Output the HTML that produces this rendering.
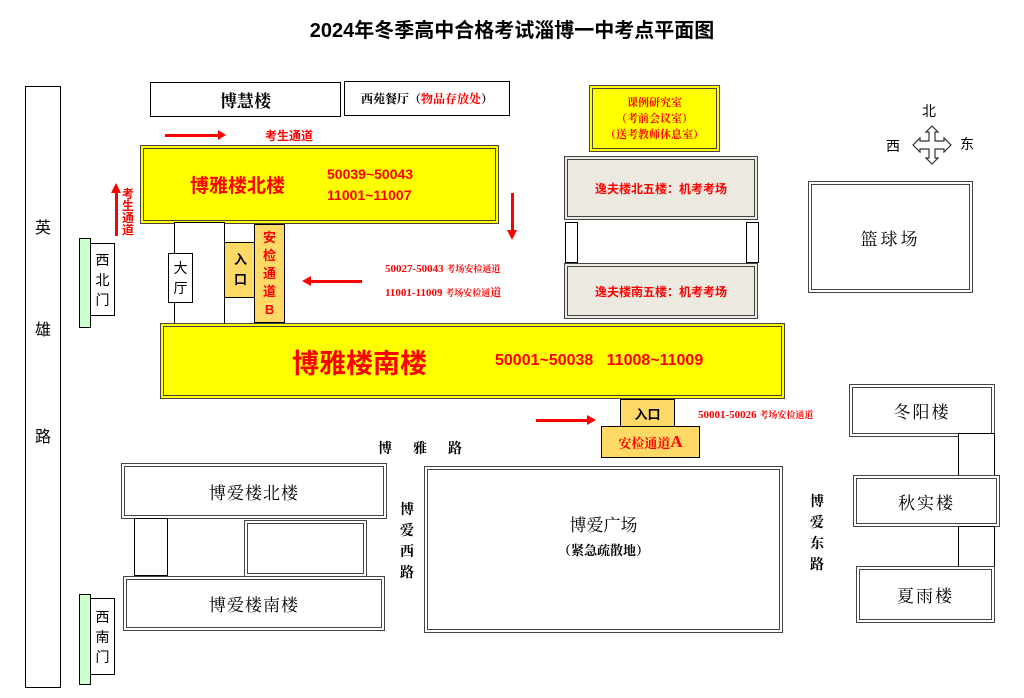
<!DOCTYPE html>
<html><head><meta charset="utf-8"><style>
body{margin:0;width:1024px;height:698px;background:#fff;position:relative;overflow:hidden;font-family:"Liberation Sans","Noto Sans CJK SC",sans-serif}
.b{position:absolute;box-sizing:border-box;display:flex;align-items:center;justify-content:center;text-align:center}
.s{border:1px solid #000;background:#fff}
.d{border:4px double #444;background:#fff}
.y{background:#ff0}
.o{background:#ffd966;border:1px solid #000}
.r{color:#f00;font-weight:bold}
.t{position:absolute;white-space:nowrap}
.serif{font-family:"Liberation Serif","Noto Serif CJK SC",serif}
.arr{position:absolute;background:#f00}
</style></head><body>
<div class="t" style="left:0;width:1024px;top:14px;text-align:center;font-size:20px;font-weight:bold">2024年冬季高中合格考试淄博一中考点平面图</div>

<div class="b s" style="left:25px;top:86px;width:36px;height:602px"></div>
<div class="t" style="left:35px;top:214px;font-size:16px">英</div>
<div class="t" style="left:35px;top:316px;font-size:16px">雄</div>
<div class="t" style="left:35px;top:423px;font-size:16px">路</div>

<div class="b s serif" style="left:150px;top:82px;width:191px;height:35px;font-size:17px;font-weight:bold">博慧楼</div>
<div class="b s serif" style="left:344px;top:81px;width:166px;height:35px;font-size:12px;font-weight:bold">西苑餐厅（<span style="color:#f00">物品存放处</span>）</div>

<div class="arr" style="left:165px;top:134px;width:55px;height:3px"></div>
<div class="t" style="left:218px;top:130px;width:0;height:0;border-left:8px solid #f00;border-top:5px solid transparent;border-bottom:5px solid transparent"></div>
<div class="t r" style="left:265px;top:127px;font-size:12px">考生通道</div>

<div class="b d y" style="left:140px;top:145px;width:359px;height:79px;justify-content:flex-start">
<span class="r" style="font-size:19px;margin-left:46px">博雅楼北楼</span>
<span class="r" style="font-size:14px;margin-left:42px;line-height:21px;text-align:left">50039~50043<br>11001~11007</span></div>

<div class="arr" style="left:115px;top:192px;width:3px;height:44px"></div>
<div class="t" style="left:111px;top:183px;width:0;height:0;border-bottom:10px solid #f00;border-left:5px solid transparent;border-right:5px solid transparent"></div>
<div class="t r" style="left:122px;top:188px;font-size:12px;line-height:12px;width:13px;white-space:normal">考生通道</div>

<div class="b" style="left:79px;top:238px;width:12px;height:90px;background:#cfc;border:1px solid #000"></div>
<div class="b s" style="left:90px;top:243px;width:25px;height:73px;font-size:14px;line-height:20px;padding:0 4px">西北门</div>

<div class="b s" style="left:174px;top:222px;width:51px;height:102px"></div>
<div class="b s" style="left:168px;top:253px;width:25px;height:50px;font-size:14px;line-height:20px;padding:0 4px">大厅</div>
<div class="b o" style="left:224px;top:242px;width:33px;height:56px;font-size:13px;font-weight:bold;line-height:20px;padding:0 9px">入口</div>
<div class="b o r" style="left:254px;top:224px;width:31px;height:99px;font-size:13px;line-height:18px;padding:0 8px;border:1px solid #000">安检通道B</div>

<div class="arr" style="left:310px;top:280px;width:52px;height:3px"></div>
<div class="t" style="left:302px;top:276px;width:0;height:0;border-right:9px solid #f00;border-top:5px solid transparent;border-bottom:5px solid transparent"></div>
<div class="t r serif" style="left:385px;top:262px;font-size:11px">50027-50043 <span style="font-size:9px">考场安检通道</span></div>
<div class="t r serif" style="left:385px;top:284px;font-size:11px">11001-11009 <span style="font-size:9px">考场安检通</span>道</div>

<div class="arr" style="left:511px;top:193px;width:3px;height:38px"></div>
<div class="t" style="left:507px;top:230px;width:0;height:0;border-top:10px solid #f00;border-left:5px solid transparent;border-right:5px solid transparent"></div>

<div class="b d y" style="left:160px;top:323px;width:625px;height:76px;justify-content:flex-start">
<span class="r" style="font-size:27px;margin-left:128px">博雅楼南楼</span>
<span class="r" style="font-size:16px;margin-left:68px">50001~50038&nbsp;&nbsp;&nbsp;11008~11009</span></div>

<div class="b d y r serif" style="left:589px;top:85px;width:131px;height:67px;font-size:11px;line-height:16px">课例研究室<br>（考前会议室）<br>（送考教师休息室）</div>
<div class="b d r" style="left:564px;top:156px;width:194px;height:64px;background:#ece9e0;font-size:12px">逸夫楼北五楼：机考考场</div>
<div class="b s" style="left:565px;top:222px;width:13px;height:41px"></div>
<div class="b s" style="left:746px;top:222px;width:13px;height:41px"></div>
<div class="b d r" style="left:564px;top:263px;width:194px;height:56px;background:#ece9e0;font-size:12px">逸夫楼南五楼：机考考场</div>

<div class="t" style="left:922px;top:101px;font-size:14px">北</div>
<div class="t" style="left:886px;top:136px;font-size:14px">西</div>
<div class="t" style="left:960px;top:134px;font-size:14px">东</div>
<svg class="t" style="left:911px;top:125px" width="42" height="40" viewBox="0 0 42 40"><path d="M21 1 L27 7 L24 7 L24 16 L33 16 L33 13 L40 20 L33 27 L33 24 L24 24 L24 33 L27 33 L21 39 L15 33 L18 33 L18 24 L9 24 L9 27 L2 20 L9 13 L9 16 L18 16 L18 7 L15 7 Z" fill="#fff" stroke="#333" stroke-width="1.2"/></svg>

<div class="b d serif" style="left:808px;top:181px;width:165px;height:112px;font-size:17px;letter-spacing:3px">篮球场</div>

<div class="b o" style="left:620px;top:399px;width:55px;height:28px;font-size:13px;font-weight:bold">入口</div>
<div class="b o r serif" style="left:601px;top:426px;width:99px;height:32px;font-size:13px">安检通道<span style="font-size:17px">A</span></div>
<div class="arr" style="left:536px;top:419px;width:52px;height:3px"></div>
<div class="t" style="left:587px;top:415px;width:0;height:0;border-left:9px solid #f00;border-top:5px solid transparent;border-bottom:5px solid transparent"></div>
<div class="t r serif" style="left:698px;top:408px;font-size:11px">50001-50026 <span style="font-size:9px">考场安检通道</span></div>

<div class="b d serif" style="left:849px;top:384px;width:146px;height:53px;font-size:17px;letter-spacing:2px">冬阳楼</div>
<div class="b s" style="left:958px;top:433px;width:37px;height:43px"></div>
<div class="b d serif" style="left:853px;top:475px;width:147px;height:52px;font-size:17px;letter-spacing:2px">秋实楼</div>
<div class="b s" style="left:958px;top:526px;width:37px;height:41px"></div>
<div class="b d serif" style="left:856px;top:566px;width:139px;height:57px;font-size:17px;letter-spacing:2px">夏雨楼</div>

<div class="t serif" style="left:378px;top:438px;font-size:14px;font-weight:bold;word-spacing:0">博&nbsp;&nbsp;&nbsp;&nbsp;&nbsp;&nbsp;雅&nbsp;&nbsp;&nbsp;&nbsp;&nbsp;&nbsp;路</div>

<div class="b d serif" style="left:121px;top:463px;width:266px;height:56px;font-size:17px;letter-spacing:1px">博爱楼北楼</div>
<div class="b s" style="left:134px;top:518px;width:34px;height:58px"></div>
<div class="b d" style="left:244px;top:520px;width:123px;height:57px"></div>
<div class="b d serif" style="left:123px;top:576px;width:262px;height:55px;font-size:17px;letter-spacing:1px">博爱楼南楼</div>

<div class="t serif" style="left:400px;top:500px;font-size:14px;font-weight:bold;line-height:21px;width:16px;white-space:normal">博爱西路</div>
<div class="b d serif" style="left:424px;top:466px;width:359px;height:167px;flex-direction:column;font-size:17px;padding-bottom:30px">博爱广场<span style="font-size:13px;font-weight:bold;margin-top:4px">（紧急疏散地）</span></div>
<div class="t serif" style="left:810px;top:492px;font-size:14px;font-weight:bold;line-height:21px;width:16px;white-space:normal">博爱东路</div>

<div class="b" style="left:79px;top:594px;width:12px;height:91px;background:#cfc;border:1px solid #000"></div>
<div class="b s" style="left:90px;top:598px;width:25px;height:77px;font-size:14px;line-height:20px;padding:0 4px">西南门</div>
</body></html>
